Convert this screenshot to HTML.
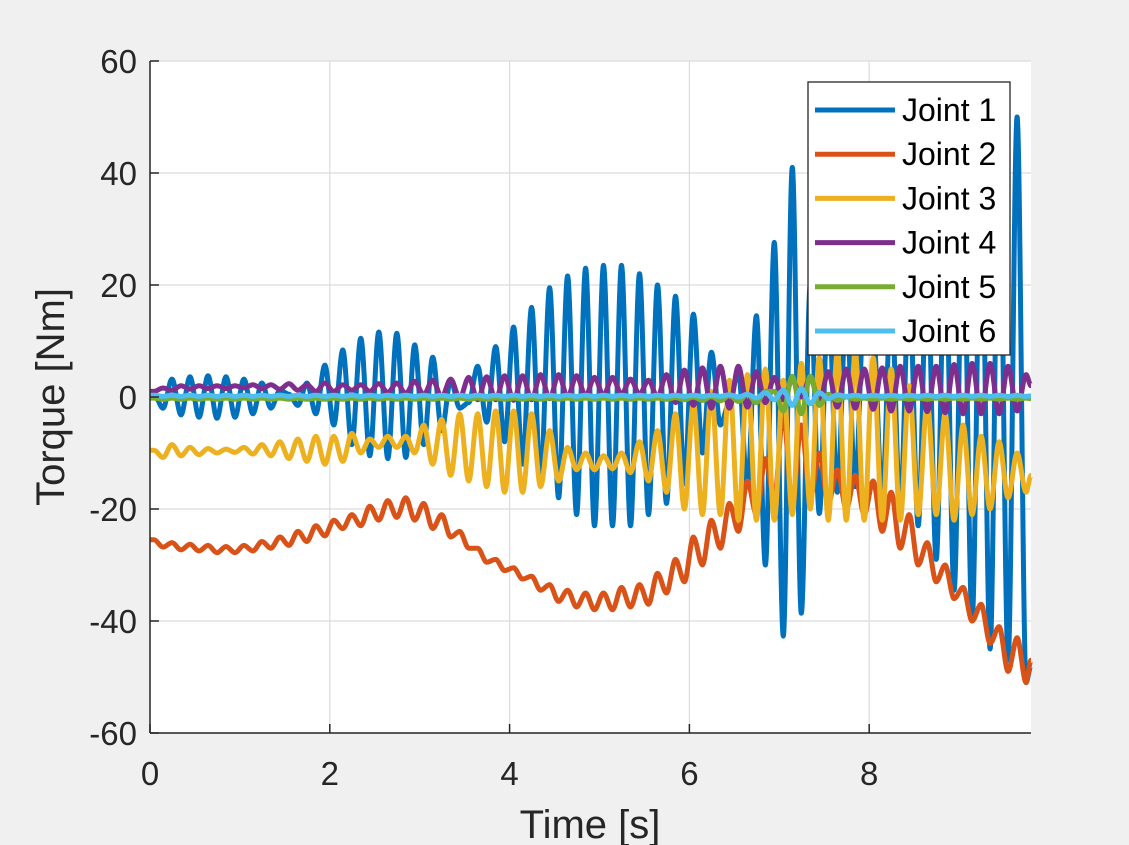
<!DOCTYPE html>
<html><head><meta charset="utf-8">
<style>
html,body{margin:0;padding:0;background:#f0f0f0;}
svg{display:block;font-family:"Liberation Sans",Arial,sans-serif;}
</style></head>
<body>
<svg id="chart" width="1129" height="845" viewBox="0 0 1129 845" xmlns="http://www.w3.org/2000/svg">
<rect x="0" y="0" width="1129" height="845" fill="#f0f0f0"/>
<rect x="150" y="61" width="881" height="672" fill="#ffffff"/>
<g id="grid"></g>
<g id="series"></g>
<g id="axes"></g>
<g id="legend"></g>
<text x="590" y="838" font-size="40" text-anchor="middle" fill="#262626">Time [s]</text>
<text transform="translate(64,397) rotate(-90)" font-size="40" text-anchor="middle" fill="#262626">Torque [Nm]</text>
</svg>
<script>
const xTicks=[0,2,4,6,8];
const yTicks=[60,40,20,0,-20,-40,-60];
const seriesNames=["Joint 1","Joint 2","Joint 3","Joint 4","Joint 5","Joint 6"];
const seriesColors=["#0072BD","#D95319","#EDB120","#7E2F8E","#77AC30","#4DBEEE"];
const tStart=0.045, tStep=0.1, tEnd=9.8;
const joint1=[0.5,-2,3.2,-3.2,3.6,-3.6,3.8,-3.8,3.6,-3.6,
3.2,-3,2.5,-2,1.2,0.5,-1.5,2.5,-3,5.7,
-5,8.4,-8.5,10.5,-10.5,11.6,-11,11.4,-10.8,9.3,
-8.5,7.1,-6,3,-2,-1,5.5,-4.5,9,-8,
12.5,-12,16,-15,19.5,-18,21.6,-21,23,-23,
23.5,-23,23.5,-23,22,-21,20,-19,18,-15.5,
14.8,-10,8,-5,-1,4.5,-16,14.5,-30,27.6,
-42.7,41,-38.6,20,-20.8,18,-17,16,-16,16,
12,-18,18,-20,20,-23,24,-29,28,-34.5,
33,-40,38,-45,44,-47,50,-51];
const joint1End=-48;
const joint2=[-25.5,-26.8,-26,-27.3,-26.3,-27.5,-26.5,-27.8,-26.7,-27.8,
-26.5,-27.5,-25.8,-27,-25,-26.5,-24,-25.8,-23,-24.8,
-22,-23.5,-21,-23,-19.5,-22,-18.5,-21.5,-18,-22,
-19,-23.5,-21,-25,-24,-27,-27,-29.5,-29,-31,
-30.5,-32.5,-32,-34.5,-33.5,-36.5,-34.5,-37.5,-35,-38,
-35,-38,-34,-37.5,-33.5,-37,-31.5,-35,-29,-33,
-25,-30,-22,-27,-19,-24,-15,-21,-11,-18,
-3,-19,-5,-18,-10,-19,-13,-20,-14,-21,
-15,-24,-17,-27,-21,-30,-26,-33,-30,-36,
-34,-40,-37,-44,-41,-49,-43,-51];
const joint2End=-47;
const joint3=[-9.5,-10.8,-8.5,-10.5,-9,-10.3,-9.2,-10,-9.3,-9.9,
-9,-10.2,-8.5,-10.5,-8,-11,-7.5,-11.5,-7,-12,
-7,-11.5,-6.5,-10,-7.5,-9,-7,-9,-7,-10,
-5,-12,-4,-14,-3,-15,-3,-16,-2.5,-17,
-2.5,-17,-3,-16,-6,-15,-9,-13,-10,-13,
-10.5,-12.8,-10,-13.5,-8,-15,-6,-17,-3,-20,
-1,-21,1,-21,3,-22,4,-22,5,-22,
3,-21,6,-20,7,-22,8,-22,8,-22,
7,-22,5,-22,2,-21,-1,-21,-3,-22,
-5,-21,-7,-20,-8,-18,-10,-17];
const joint3End=-14;
const joint4=[1,1.6,1.2,2,1.4,2,1.5,2,1.5,2,
1.6,2.2,1.5,2.2,1.4,2.4,1.2,2.2,1,2.5,
1,2.2,1.2,2.2,1,2.4,0.8,2.5,0.6,2.8,
0.4,3,0,3.2,-0.2,3.5,-0.5,3.6,-0.5,3.8,
-0.6,3.8,-0.5,4,-0.3,4,0,3.8,0.2,3.5,
0.3,3.5,0.5,3.2,0.5,3,0,4,-1,4.8,
-1.5,5.2,-2,5.5,-2,5.5,-1.8,4.5,-1,3.5,
-0.5,3,0,3.5,-1,4.5,-1.8,5,-2,5,
-2.2,5.2,-2.5,5.5,-2.5,5.5,-2.6,5.5,-2.8,5.8,
-3,6,-3,6,-3,5.5,-2.5,4];
const joint4End=2;
const joint5=[-0.2,-0.4,-0.2,-0.4,-0.2,-0.4,-0.2,-0.4,-0.2,-0.4,
-0.2,-0.4,-0.2,-0.4,-0.2,-0.4,-0.2,-0.4,-0.2,-0.4,
-0.2,-0.4,-0.2,-0.4,-0.2,-0.4,-0.2,-0.4,-0.2,-0.4,
-0.2,-0.4,-0.2,-0.4,-0.2,-0.4,-0.2,-0.4,-0.2,-0.4,
-0.2,-0.4,-0.2,-0.4,-0.2,-0.4,-0.2,-0.4,-0.2,-0.4,
-0.2,-0.4,-0.2,-0.4,-0.2,-0.4,-0.2,-0.4,-0.1,-0.5,
0,-0.6,0.1,-0.7,0.3,-0.8,0.5,-1,1,1,
-2.5,3.7,-3,3.7,-1.5,0.5,-0.6,0,-0.4,-0.2,
-0.4,-0.2,-0.4,-0.2,-0.4,-0.2,-0.4,-0.2,-0.4,-0.2,
-0.4,-0.2,-0.4,-0.2,-0.4,-0.2,-0.4,-0.2];
const joint5End=-0.3;
const joint6=[0.3,0.1,0.3,0.1,0.3,0.1,0.3,0.1,0.3,0.1,
0.3,0.1,0.3,0.1,0.3,0.1,0.3,0.1,0.3,0.1,
0.3,0.1,0.3,0.1,0.3,0.1,0.3,0.1,0.3,0.1,
0.3,0.1,0.3,0.1,0.3,0.1,0.3,0.1,0.3,0.1,
0.3,0.1,0.3,0.1,0.3,0.1,0.3,0.1,0.3,0.1,
0.3,0.1,0.3,0.1,0.3,0.1,0.3,0.1,0.3,0.1,
0.3,0.1,0.3,0.1,0.4,0,0.5,-0.2,0.8,-0.5,
1.2,-1.5,1.5,-1.2,0.8,-0.3,0.4,0.1,0.3,0.1,
0.3,0.1,0.3,0.1,0.3,0.1,0.3,0.1,0.3,0.1,
0.3,0.1,0.3,0.1,0.3,0.1,0.3,0.1];
const joint6End=0.2;

const NS="http://www.w3.org/2000/svg";
const X0=150,X1=1031,Y0=733,Y1=61;
const xMin=0,xMax=9.8,yMin=-60,yMax=60;
function xs(t){return X0+(t-xMin)/(xMax-xMin)*(X1-X0);}
function ys(v){return Y0-(v-yMin)/(yMax-yMin)*(Y0-Y1);}
function mk(tag,attrs,parent){const e=document.createElementNS(NS,tag);for(const k in attrs)e.setAttribute(k,attrs[k]);parent.appendChild(e);return e;}

const grid=document.getElementById('grid');
xTicks.forEach(t=>{
  const l=mk('line',{x1:xs(t),x2:xs(t),y1:Y1,y2:Y0,stroke:'#dcdcdc','stroke-width':1.2},grid);
  
  
});
yTicks.forEach(v=>{
  const l=mk('line',{x1:X0,x2:X1,y1:ys(v),y2:ys(v),stroke:'#dcdcdc','stroke-width':1.2},grid);
  
  
});

const sg=document.getElementById('series');
const allSeries=[[joint1,joint1End],[joint2,joint2End],[joint3,joint3End],[joint4,joint4End],[joint5,joint5End],[joint6,joint6End]];
allSeries.forEach((s,i)=>{
  const vals=s[0];
  const pts=[[0,vals[0]]];
  vals.forEach((v,k)=>pts.push([tStart+k*tStep,v]));
  pts.push([tEnd,s[1]]);
  let d='M'+xs(pts[0][0]).toFixed(1)+','+ys(pts[0][1]).toFixed(1);
  for(let j=1;j<pts.length;j++){
    const xa=xs(pts[j-1][0]),xb=xs(pts[j][0]),ya=ys(pts[j-1][1]),yb=ys(pts[j][1]);
    const dx=(xb-xa)/3;
    d+=' C'+(xa+dx).toFixed(1)+','+ya.toFixed(1)+' '+(xb-dx).toFixed(1)+','+yb.toFixed(1)+' '+xb.toFixed(1)+','+yb.toFixed(1);
  }
  const p=mk('path',{d:d,fill:'none',stroke:seriesColors[i],'stroke-width':5,'stroke-linejoin':'round'},sg);
  
  
});

const ax=document.getElementById('axes');
const la=mk('line',{x1:X0,x2:X0,y1:Y1,y2:Y0,stroke:'#262626','stroke-width':1.5},ax);


const lb=mk('line',{x1:X0,x2:X1,y1:Y0,y2:Y0,stroke:'#262626','stroke-width':1.5},ax);


xTicks.forEach(t=>{
  const tk=mk('line',{x1:xs(t),x2:xs(t),y1:Y0,y2:Y0-9,stroke:'#262626','stroke-width':1.5},ax);
  
  
  const tx=mk('text',{x:xs(t),y:Y0+52,'font-size':33,'text-anchor':'middle',fill:'#262626'},ax);
  tx.textContent=String(t);
  
  
});
yTicks.forEach(v=>{
  const tk=mk('line',{x1:X0,x2:X0+9,y1:ys(v),y2:ys(v),stroke:'#262626','stroke-width':1.5},ax);
  
  
  const tx=mk('text',{x:X0-13,y:ys(v)+12,'font-size':33,'text-anchor':'end',fill:'#262626'},ax);
  tx.textContent=String(v);
  
  
});

const lg=document.getElementById('legend');
const box=mk('rect',{x:808,y:82,width:202,height:273,fill:'#ffffff',stroke:'#262626','stroke-width':1.3},lg);


seriesNames.forEach((n,i)=>{
  const y=110+i*44.2;
  const g=mk('g',{},lg);
  
  
  const l=mk('line',{x1:815,x2:895,y1:y,y2:y,stroke:seriesColors[i],'stroke-width':5},g);
  
  
  const t=mk('text',{x:902,y:y+11,'font-size':32,fill:'#000000'},g);
  t.textContent=n;
  
  
});
</script>
</body></html>
